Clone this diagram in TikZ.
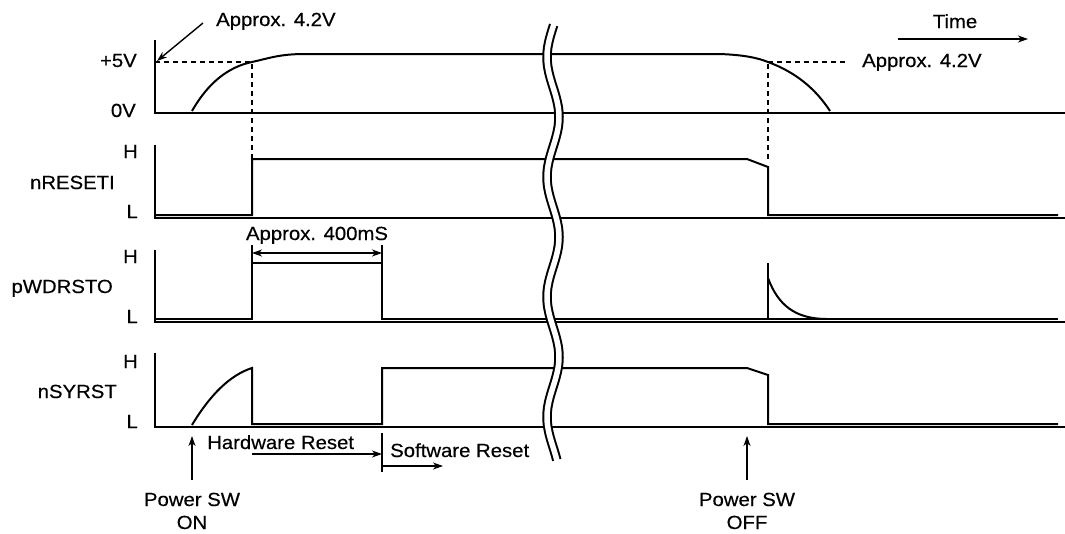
\documentclass[tikz,border=0pt]{standalone}
\usepackage{fontspec}
\setmainfont{Liberation Sans}[FakeStretch=1.07,FakeBold=0.4]
\usetikzlibrary{arrows.meta}
\begin{document}
\begin{tikzpicture}[x=1pt,y=-1pt,
  sig/.style={line width=2pt, line join=miter},
  axis/.style={line width=1.8pt},
  dashln/.style={line width=1.4pt, dash pattern=on 5pt off 4pt},
  lbl/.style={inner sep=0pt, font=\fontsize{19}{22}\selectfont},
  arr/.style={line width=1.4pt, -{Stealth[length=10pt,width=7pt,inset=3pt]}},
  dimarr/.style={line width=1.4pt, {Stealth[length=10pt,width=7pt,inset=3pt]}-{Stealth[length=10pt,width=7pt,inset=3pt]}},
  tick/.style={line width=1.4pt}]
\useasboundingbox (0,0) rectangle (1065,533);

% ---------- labels ----------
\node[lbl, anchor=base west] (a42l) at (216,26) {Approx. 4.2V};
\node[lbl, anchor=base east] (p5v) at (137,67) {+5V};
\node[lbl, anchor=base east] (z0v) at (136,117) {0V};
\node[lbl, anchor=base] (time) at (955,28) {Time};
\node[lbl, anchor=base west] (a42r) at (862,67) {Approx. 4.2V};

\node[lbl, anchor=base east] (h1) at (138,158) {H};
\node[lbl, anchor=base east] (l1) at (138,218) {L};
\node[lbl, anchor=base east] (n1) at (115,189) {nRESETI};

\node[lbl, anchor=base east] (h2) at (138,263) {H};
\node[lbl, anchor=base east] (l2) at (138,323) {L};
\node[lbl, anchor=base east] (n2) at (113,293) {pWDRSTO};
\node[lbl, anchor=base] (a400) at (317,240) {Approx. 400mS};

\node[lbl, anchor=base east] (h3) at (138,368) {H};
\node[lbl, anchor=base east] (l3) at (138,428) {L};
\node[lbl, anchor=base east] (n3) at (117,398) {nSYRST};

\node[lbl, anchor=base west] (hwr) at (207,449) {Hardware Reset};
\node[lbl, anchor=base west] (swr) at (390,457) {Software Reset};
\node[lbl, anchor=base] (pon1) at (192,506) {Power SW};
\node[lbl, anchor=base] (pon2) at (192,529) {ON};
\node[lbl, anchor=base] (poff1) at (747,506) {Power SW};
\node[lbl, anchor=base] (poff2) at (747,529) {OFF};

% ---------- coordinates ----------
\coordinate (a42s) at (203,23);
\coordinate (p5) at (157,61);
\coordinate (ts) at (898,39);
\coordinate (te) at (1028,39);
\coordinate (onS) at (192,480);
\coordinate (onE) at (192,436);
\coordinate (offS) at (747,480);
\coordinate (offE) at (747,436);
\coordinate (hwS) at (252,454);
\coordinate (hwE) at (382,454);
\coordinate (swS) at (382,466);
\coordinate (swE) at (443,466);
\coordinate (dimL) at (252,253);
\coordinate (dimR) at (382,253);

% ---------- supply panel ----------
\draw[axis] (155,40) -- (155,113) -- (1065,113);
\draw[dashln] (155,62) -- (252,62);
\draw[dashln] (252,64) -- (252,159);
\draw[dashln] (768,62) -- (847,62);
\draw[dashln] (768,64) -- (768,160);
\draw[sig] (192,111) .. controls (208,83) and (228,67) .. (252,62)
  .. controls (270,58) and (280,54) .. (305,54) -- (720,54)
  .. controls (745,55) and (758,58) .. (768,62)
  .. controls (795,72) and (815,88) .. (830,111);
\draw[arr] (a42s) -- (p5);
\draw[arr] (ts) -- (te);

% ---------- nRESETI ----------
\draw[axis] (155,145) -- (155,218) -- (1065,218);
\draw[sig] (155,215) -- (252,215) -- (252,159) -- (747,159) -- (768,167) -- (768,215) -- (1058,215);

% ---------- pWDRSTO ----------
\draw[axis] (155,250) -- (155,322) -- (1065,322);
\draw[sig] (155,319) -- (252,319) -- (252,263) -- (382,263) -- (382,319) -- (1058,319);
\draw[sig] (768,319) -- (768,263);
\draw[sig] (768,278) .. controls (778,305) and (795,319) .. (827,319);
\draw[tick] (252,245) -- (252,263);
\draw[tick] (382,245) -- (382,263);
\draw[dimarr] (dimL) -- (dimR);

% ---------- nSYRST ----------
\draw[axis] (155,353) -- (155,427) -- (1065,427);
\draw[sig] (192,425) .. controls (210,395) and (230,375) .. (252,368)
  -- (252,424) -- (382,424) -- (382,368) -- (747,368) -- (768,375) -- (768,424) -- (1058,424);

% ---------- bottom annotations ----------
\draw[arr] (onS) -- (onE);
\draw[arr] (offS) -- (offE);
\draw[arr] (hwS) -- (hwE);
\draw[tick] (382,433) -- (382,472);
\draw[arr] (swS) -- (swE);

% ---------- break mark ----------
\draw[line width=9.5pt] plot[domain=25:460, samples=120, variable=\t] ({553-6*cos(3*(\t-57))}, \t);
\draw[white, line width=5.5pt] plot[domain=22:463, samples=120, variable=\t] ({553-6*cos(3*(\t-57))}, \t);
\end{tikzpicture}
\end{document}
